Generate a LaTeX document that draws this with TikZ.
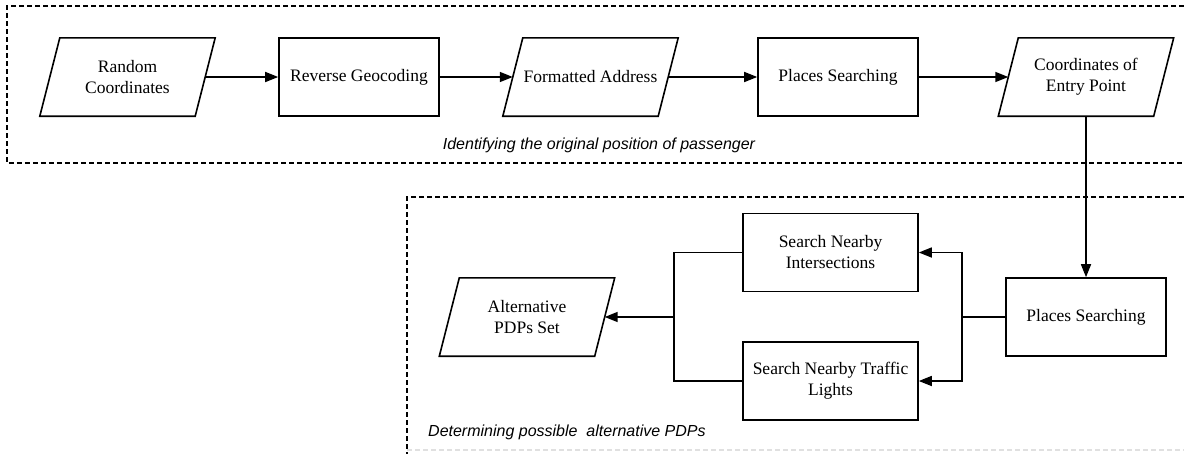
\documentclass[tikz,border=0pt]{standalone}
\usepackage{fontspec}
\setmainfont{Liberation Serif}
\setsansfont{Liberation Sans}
\usetikzlibrary{arrows.meta}

\begin{document}
\begin{tikzpicture}[x=1pt,y=-1pt,
  label font/.style={font=\fontsize{17.5}{21}\selectfont},
  procbox/.style={draw, line width=1.6pt, minimum width=160pt, minimum height=78pt,
    align=center, inner sep=0pt, label font},
  widebox/.style={procbox, minimum width=175pt},
  iobox/.style={minimum width=155pt, minimum height=78pt, align=center,
    inner sep=0pt, label font},
  outline/.style={line width=1.6pt, line join=miter},
  flow/.style={line width=1.6pt, -{Triangle[length=13pt,width=10pt]}},
  link/.style={line width=1.6pt},
  group/.style={line width=1.2pt, dash pattern=on 5pt off 3pt},
  caption/.style={font=\sffamily\itshape\fontsize{16}{19}\selectfont, inner sep=0pt}
]
\useasboundingbox (0,0) rectangle (1184,453);

% dashed group frames, running off the right and bottom edges
\begin{scope}
  \clip (0,0) rectangle (1184,453);
  \draw[group] (1200,6) -- (7,6) -- (7,163) -- (1200,163);
  \draw[group] (1200,197) -- (407,197) -- (407,470);
  \draw[group, black!12] (407,450) -- (1200,450);
\end{scope}

% upper row
\node[iobox]   (rc)  at (127.5,77) {Random\\Coordinates};
\node[procbox] (rg)  at (359,77)   {Reverse Geocoding};
\node[iobox]   (fa)  at (590.5,77) {Formatted Address};
\node[procbox] (ps1) at (838,77)   {Places Searching};
\node[iobox]   (ce)  at (1086,77)  {Coordinates of\\Entry Point};

% lower group
\node[procbox] (ps2) at (1086,317)  {Places Searching};
\node[widebox] (sni) at (830.5,252.5) {Search Nearby\\Intersections};
\node[widebox] (snt) at (830.5,381) {Search Nearby Traffic\\Lights};
\node[iobox]   (alt) at (527,317)   {Alternative\\PDPs Set};

% parallelogram outlines for the data nodes
\foreach \n in {rc,fa,ce,alt}
  \draw[outline] ([xshift=-10pt]\n.south west) -- ([xshift=10pt]\n.north west)
    -- ([xshift=10pt]\n.north east) -- ([xshift=-10pt]\n.south east) -- cycle;

% captions
\node[caption] (cap1) at (599,145) {Identifying the original position of passenger};
\node[caption, anchor=west] (cap2) at (428,432) {Determining possible\ \ alternative PDPs};

% connectors
\draw[flow] (rc) -- (rg);
\draw[flow] (rg) -- (fa);
\draw[flow] (fa) -- (ps1);
\draw[flow] (ps1) -- (ce);
\draw[flow] (ce) -- (ps2);

\coordinate (jr) at (962,317);
\coordinate (jl) at (674,317);
\draw[link] (ps2.west) -- (jr);
\draw[flow] (jr) |- (sni.east);
\draw[flow] (jr) |- (snt.east);
\draw[link] (sni.west) -| (jl) |- (snt.west);
\draw[flow] (jl) -- (alt);
\end{tikzpicture}
\end{document}
